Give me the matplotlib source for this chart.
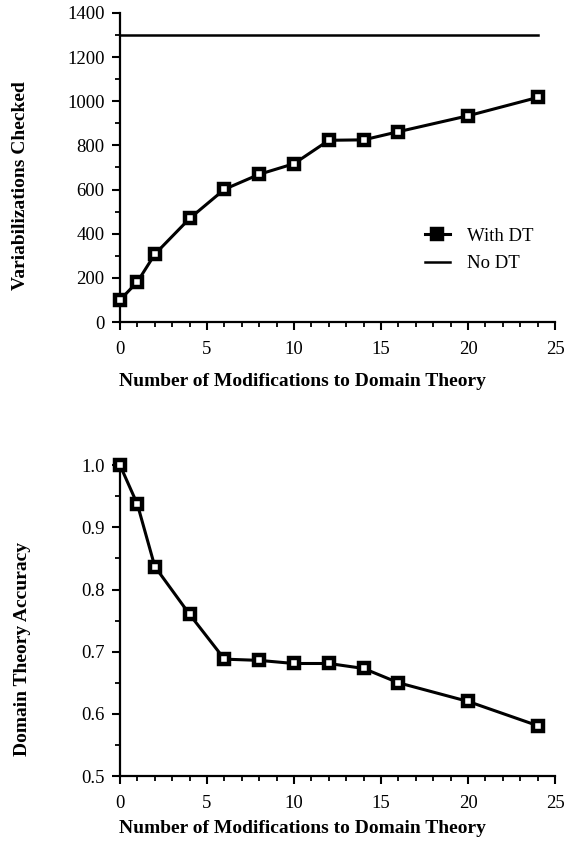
import matplotlib
matplotlib.use("Agg")
import matplotlib.pyplot as plt
from matplotlib.ticker import MultipleLocator

#data
mods = [0, 1, 2, 4, 6, 8, 10, 12, 14, 16, 20, 24]
checked_dt = [100, 182, 307, 469, 601, 669, 717, 823, 825, 862, 934, 1017]
no_dt_x = [0, 24]
no_dt_y = [1302, 1302]
accuracy = [1.0, 0.937, 0.837, 0.760, 0.688, 0.686, 0.681, 0.681, 0.673, 0.650, 0.620, 0.581]

xlabel = "Number of Modifications to Domain Theory"

plt.rcParams["font.family"] = ["Liberation Serif", "DejaVu Serif"]

fig = plt.figure(figsize=(5.65, 8.47), dpi=100)

def style_axes(ax, xlab_y):
  ax.spines["top"].set_visible(False)
  ax.spines["right"].set_visible(False)
  ax.spines["left"].set_linewidth(1.6)
  ax.spines["bottom"].set_linewidth(1.6)
  ax.xaxis.set_major_locator(MultipleLocator(5))
  ax.xaxis.set_minor_locator(MultipleLocator(1))
  ax.tick_params(which="major", direction="out", length=6, width=1.5, labelsize=13.5, pad=5)
  ax.tick_params(axis="x", which="major", pad=8)
  ax.tick_params(which="minor", direction="out", length=3.5, width=1.3)
  ax.set_xlim(0, 25)
  ax.set_xlabel(xlabel, fontsize=14, fontweight="bold")
  ax.xaxis.set_label_coords(0.42, xlab_y)

#top: variabilizations checked
ax1 = fig.add_axes([0.2124, 0.6198, 0.770, 0.365])
ax1.plot(mods, checked_dt, color="black", lw=2.2, marker="s", ms=7.5,
         mfc="white", mec="black", mew=3.2, label="With DT", clip_on=False, zorder=3)
ax1.plot(no_dt_x, no_dt_y, color="black", lw=1.8, label="No DT", clip_on=False)
ax1.set_ylim(0, 1400)
ax1.yaxis.set_major_locator(MultipleLocator(200))
ax1.yaxis.set_minor_locator(MultipleLocator(100))
style_axes(ax1, -0.165)
ax1.set_ylabel("Variabilizations Checked", fontsize=14, fontweight="bold")
ax1.yaxis.set_label_coords(-0.21, 0.44)
leg = ax1.legend(loc="upper left", bbox_to_anchor=(0.70, 0.305), frameon=False,
                 borderpad=0, borderaxespad=0, fontsize=13.5, handlelength=1.35,
                 handletextpad=0.9, labelspacing=0.55)
leg.legend_handles[0].set_markerfacecolor("black")

#bottom: domain theory accuracy
ax2 = fig.add_axes([0.2124, 0.0838, 0.770, 0.367])
ax2.plot(mods, accuracy, color="black", lw=2.2, marker="s", ms=7.5,
         mfc="white", mec="black", mew=3.2, clip_on=False, zorder=3)
ax2.set_ylim(0.5, 1.0)
ax2.yaxis.set_major_locator(MultipleLocator(0.1))
ax2.yaxis.set_minor_locator(MultipleLocator(0.05))
ax2.yaxis.set_major_formatter(plt.FormatStrFormatter("%.1f"))
style_axes(ax2, -0.141)
ax2.set_ylabel("Domain Theory Accuracy", fontsize=14, fontweight="bold")
ax2.yaxis.set_label_coords(-0.205, 0.41)

plt.savefig("out.png", dpi=100)
